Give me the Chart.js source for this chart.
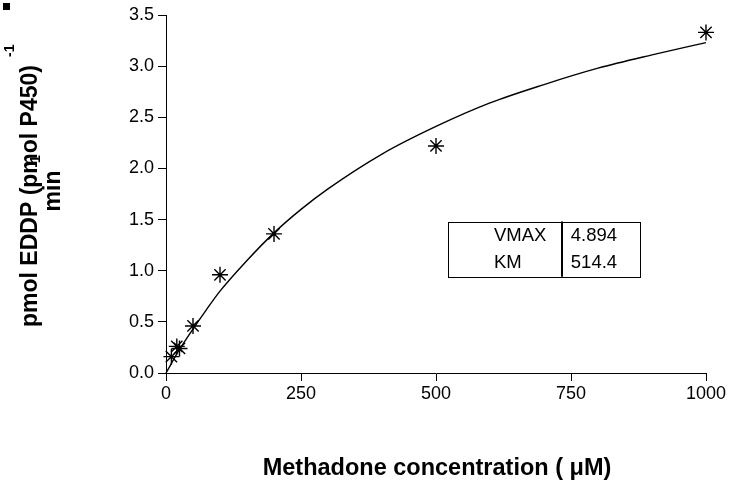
<!DOCTYPE html>
<html lang="en">
<head>
    <meta charset="UTF-8">
    <title>Methadone kinetics</title>
    <script src="https://cdn.jsdelivr.net/npm/chart.js"></script>
    <style>
        html, body { margin: 0; padding: 0; background: #fff; }
    </style>
</head>
<body>
    <canvas id="mmChart" width="733" height="483"></canvas>

    <script>
        // measured points (concentration in uM, rate)
        const concentrations = [10, 20, 25, 50, 100, 200, 500, 1000];
        const rates = [0.16, 0.26, 0.24, 0.46, 0.96, 1.36, 2.22, 3.33];

        // fitted curve
        const curveX = [0, 25, 50, 75, 100, 150, 200, 250, 300, 400, 500, 600, 700, 800, 900, 1000];
        const curveY = [0, 0.23, 0.43, 0.62, 0.80, 1.10, 1.37, 1.60, 1.80, 2.14, 2.41, 2.64, 2.82, 2.98, 3.11, 3.23];

        const xTicks = [0, 250, 500, 750, 1000];
        const yTicks = [0, 0.5, 1.0, 1.5, 2.0, 2.5, 3.0, 3.5];

        const fitLabels = ['VMAX', 'KM'];
        const fitValues = ['4.894', '514.4'];

        const FONT = '"Liberation Sans", Arial, sans-serif';

        // extra drawing: axis titles, the fit table and the little square
        const decorations = {
            id: 'decorations',
            afterDraw(chart) {
                const ctx = chart.ctx;
                const xs = chart.scales.x, ys = chart.scales.y;
                ctx.save();
                ctx.fillStyle = '#000';
                ctx.strokeStyle = '#000';

                ctx.fillRect(3, 3, 7, 7);

                // x title
                ctx.font = 'bold 23.5px ' + FONT;
                ctx.textAlign = 'center';
                ctx.textBaseline = 'alphabetic';
                ctx.fillText('Methadone concentration ( \u03bcM)', 437, 475);

                // y title, rotated, two lines with superscripts
                ctx.save();
                ctx.translate(0, 196);
                ctx.rotate(-Math.PI / 2);
                const line1 = 'pmol EDDP (pmol P450)';
                ctx.font = 'bold 23px ' + FONT;
                const w1 = ctx.measureText(line1).width;
                ctx.textAlign = 'left';
                ctx.fillText(line1, -w1 / 2, 37);
                const w2 = ctx.measureText('min').width;
                ctx.fillText('min', -w2 / 2 + 5, 60);
                ctx.font = 'bold 14px ' + FONT;
                ctx.fillText('-1', w1 / 2 + 8, 14);
                ctx.fillText('-1', w2 / 2 + 8, 40);
                ctx.restore();

                // fit parameter table
                const left = xs.getPixelForValue(522), right = xs.getPixelForValue(878);
                const mid = xs.getPixelForValue(733);
                const top = ys.getPixelForValue(1.48), bottom = ys.getPixelForValue(0.94);
                ctx.lineWidth = 1;
                ctx.strokeRect(Math.round(left) + 0.5, Math.round(top) + 0.5, Math.round(right - left), Math.round(bottom - top));
                ctx.lineWidth = 2;
                ctx.beginPath();
                ctx.moveTo(Math.round(mid), top);
                ctx.lineTo(Math.round(mid), bottom);
                ctx.stroke();
                ctx.font = '18.5px ' + FONT;
                ctx.textAlign = 'left';
                ctx.textBaseline = 'middle';
                const rowH = (bottom - top) / 2;
                fitLabels.forEach((lab, i) => {
                    const y = top + rowH * (i + 0.5);
                    ctx.fillText(lab, left + 46, y);
                    ctx.fillText(fitValues[i], mid + 9, y);
                });
                ctx.restore();
            }
        };

        new Chart(document.getElementById('mmChart'), {
            type: 'scatter',
            data: {
                datasets: [{
                    type: 'line',
                    data: curveX.map((x, i) => ({ x: x, y: curveY[i] })),
                    borderColor: '#000',
                    borderWidth: 1.4,
                    pointRadius: 0,
                    fill: false,
                    clip: false,
                    cubicInterpolationMode: 'monotone'
                }, {
                    data: concentrations.map((c, i) => ({ x: c, y: rates[i] })),
                    pointStyle: 'star',
                    pointRadius: 8,
                    borderColor: '#000',
                    backgroundColor: '#000',
                    pointBorderWidth: 1.4,
                    clip: false
                }]
            },
            options: {
                responsive: false,
                animation: false,
                devicePixelRatio: 1,
                layout: { padding: { left: 0, right: 27, top: 15, bottom: 0 } },
                plugins: { legend: { display: false }, tooltip: { enabled: false } },
                scales: {
                    x: {
                        type: 'linear', min: 0, max: 1000,
                        afterBuildTicks: s => { s.ticks = xTicks.map(v => ({ value: v })); },
                        afterFit: s => { s.height = 110; },
                        grid: { drawOnChartArea: false, drawTicks: true, tickLength: 8, tickColor: '#000' },
                        border: { display: true, color: '#000', width: 1 },
                        ticks: { color: '#000', padding: 2, autoSkip: false, maxRotation: 0,
                                 font: { family: FONT, size: 18 }, callback: v => String(v) }
                    },
                    y: {
                        type: 'linear', min: 0, max: 3.5,
                        afterBuildTicks: s => { s.ticks = yTicks.map(v => ({ value: v })); },
                        afterFit: s => { s.width = 166; },
                        grid: { drawOnChartArea: false, drawTicks: true, tickLength: 8, tickColor: '#000' },
                        border: { display: true, color: '#000', width: 1 },
                        ticks: { color: '#000', padding: 4, autoSkip: false,
                                 font: { family: FONT, size: 18 }, callback: v => v.toFixed(1) }
                    }
                }
            },
            plugins: [decorations]
        });
    </script>
</body>
</html>
